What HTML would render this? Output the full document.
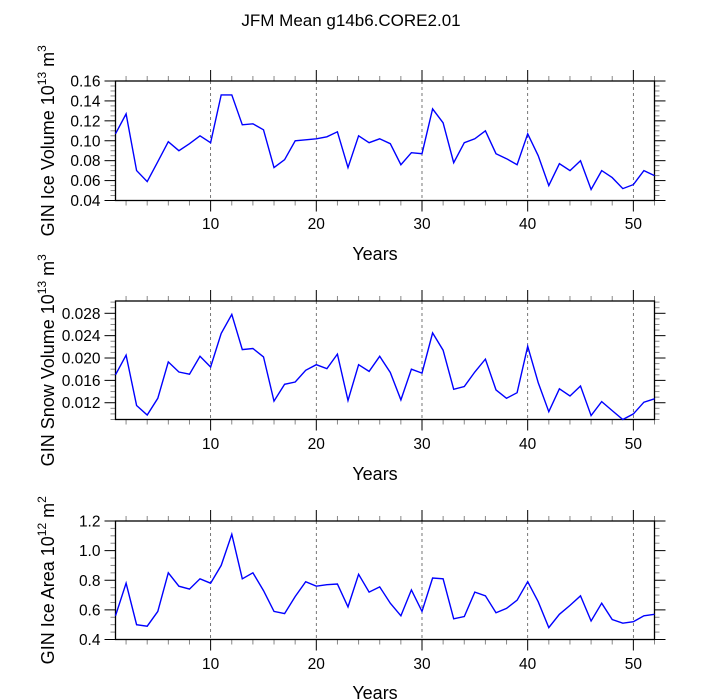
<!DOCTYPE html>
<html><head><meta charset="utf-8"><style>
body{margin:0;background:#fff}
svg{display:block;font-family:"Liberation Sans",sans-serif}
</style></head><body>
<svg id="c" width="702" height="700">
<text x="351" y="26" text-anchor="middle" font-size="17">JFM Mean g14b6.CORE2.01</text>
</svg>
<script>
const years = Array.from({length:52},(_,i)=>i+1);
const iceVolume = [0.107,0.127,0.070,0.059,0.079,0.099,0.090,0.097,0.105,0.098,0.146,0.146,0.116,0.117,0.111,0.073,0.081,0.100,0.101,0.102,0.104,0.109,0.073,0.105,0.098,0.102,0.097,0.076,0.088,0.087,0.132,0.118,0.078,0.098,0.102,0.110,0.087,0.082,0.076,0.107,0.085,0.055,0.077,0.070,0.080,0.051,0.070,0.063,0.052,0.056,0.070,0.065];
const snowVolume = [0.0170,0.0205,0.0115,0.0098,0.0128,0.0193,0.0175,0.0171,0.0203,0.0184,0.0244,0.0278,0.0215,0.0217,0.0202,0.0123,0.0153,0.0157,0.0178,0.0188,0.0181,0.0207,0.0124,0.0188,0.0176,0.0203,0.0174,0.0125,0.0180,0.0173,0.0245,0.0214,0.0144,0.0149,0.0175,0.0198,0.0143,0.0128,0.0138,0.0221,0.0156,0.0104,0.0145,0.0132,0.0150,0.0097,0.0122,0.0106,0.0090,0.0100,0.0121,0.0127];
const iceArea = [0.56,0.78,0.50,0.49,0.59,0.85,0.76,0.74,0.81,0.78,0.90,1.11,0.81,0.85,0.73,0.59,0.575,0.69,0.79,0.76,0.77,0.775,0.62,0.84,0.72,0.755,0.645,0.56,0.735,0.59,0.815,0.81,0.54,0.555,0.72,0.695,0.58,0.61,0.665,0.79,0.655,0.48,0.57,0.63,0.695,0.525,0.645,0.535,0.51,0.52,0.56,0.57];
const xTicks = [10,20,30,40,50];
const ticks1 = ["0.04","0.06","0.08","0.10","0.12","0.14","0.16"];
const ticks2 = ["0.012","0.016","0.020","0.024","0.028"];
const ticks3 = ["0.4","0.6","0.8","1.0","1.2"];

const NS="http://www.w3.org/2000/svg";
const svg=document.getElementById('c');
function mk(tag,attrs,parent){const e=document.createElementNS(NS,tag);for(const k in attrs)e.setAttribute(k,attrs[k]);(parent||svg).appendChild(e);return e;}
const L=115.5,R=654.5;
function xs(v){return L+(v-1)/51*(R-L);}

const panels=[
 {name:'ice-volume',top:81,bot:200.5,min:0.04,max:0.16,data:iceVolume,ticks:ticks1,minor:0.005,title:['GIN Ice Volume 10','13',' m','3'],xlab:229,ylab:260},
 {name:'snow-volume',top:301,bot:419.5,min:0.009,max:0.0302,data:snowVolume,ticks:ticks2,minor:0.001,title:['GIN Snow Volume 10','13',' m','3'],xlab:449,ylab:480},
 {name:'ice-area',top:521,bot:639.5,min:0.4,max:1.2,data:iceArea,ticks:ticks3,minor:0.05,title:['GIN Ice Area 10','12',' m','2'],xlab:669,ylab:699}
];
panels.forEach(p=>{
 const g=mk('g',{});
 
 
 const ys=v=>p.bot-(v-p.min)/(p.max-p.min)*(p.bot-p.top);
 xTicks.forEach(t=>{const l=mk('line',{x1:xs(t),x2:xs(t),y1:p.top,y2:p.bot,stroke:'#555','stroke-width':0.8,'stroke-dasharray':'3,3'},g);
  
  });
 for(let t=2;t<=52;t+=2){const maj=t%10===0;const len=maj?11:5;const col=maj?'#000':'#888';
  mk('line',{x1:xs(t),x2:xs(t),y1:p.top,y2:p.top-len,stroke:col,'stroke-width':1},g);
  mk('line',{x1:xs(t),x2:xs(t),y1:p.bot,y2:p.bot+len,stroke:col,'stroke-width':1},g);}
 xTicks.forEach(t=>{const tx=mk('text',{x:xs(t),y:p.xlab,'text-anchor':'middle','font-size':15.5},g);tx.textContent=t;
  
  });
 const vals=p.ticks.map(Number);
 for(let v=p.min;v<=p.max+1e-9;v+=p.minor){const rv=Math.round(v/p.minor)*p.minor;const y=ys(rv);
  if(y<p.top-0.5||y>p.bot+0.5)continue;
  const maj=vals.some(m=>Math.abs(m-rv)<p.minor/10);const len=maj?11:5;const col=maj?'#000':'#888';
  mk('line',{x1:L,x2:L-len,y1:y,y2:y,stroke:col,'stroke-width':1},g);
  mk('line',{x1:R,x2:R+len,y1:y,y2:y,stroke:col,'stroke-width':1},g);}
 p.ticks.forEach(t=>{const tx=mk('text',{x:L-15,y:ys(Number(t))+5.5,'text-anchor':'end','font-size':15.5},g);tx.textContent=t;
  
  });
 const fr=mk('rect',{x:L,y:p.top,width:R-L,height:p.bot-p.top,fill:'none',stroke:'#000','stroke-width':1.3},g);
 
 
 const pts=p.data.map((v,i)=>xs(years[i]).toFixed(1)+','+ys(v).toFixed(1)).join(' ');
 const pl=mk('polyline',{points:pts,fill:'none',stroke:'#0000ff','stroke-width':1.4},g);
 
 
 const xt=mk('text',{x:(L+R)/2-10,y:p.ylab,'text-anchor':'middle','font-size':18},g);xt.textContent='Years';
 
 
 const cy=(p.top+p.bot)/2;
 const yt=mk('text',{transform:`translate(54,${cy}) rotate(-90)`,'text-anchor':'middle','font-size':18},g);
 
 
 const s1=mk('tspan',{},yt);s1.textContent=p.title[0];
 const s2=mk('tspan',{dy:-8,'font-size':12},yt);s2.textContent=p.title[1];
 const s3=mk('tspan',{dy:8},yt);s3.textContent=p.title[2];
 const s4=mk('tspan',{dy:-8,'font-size':12},yt);s4.textContent=p.title[3];
});
</script>
</body></html>
